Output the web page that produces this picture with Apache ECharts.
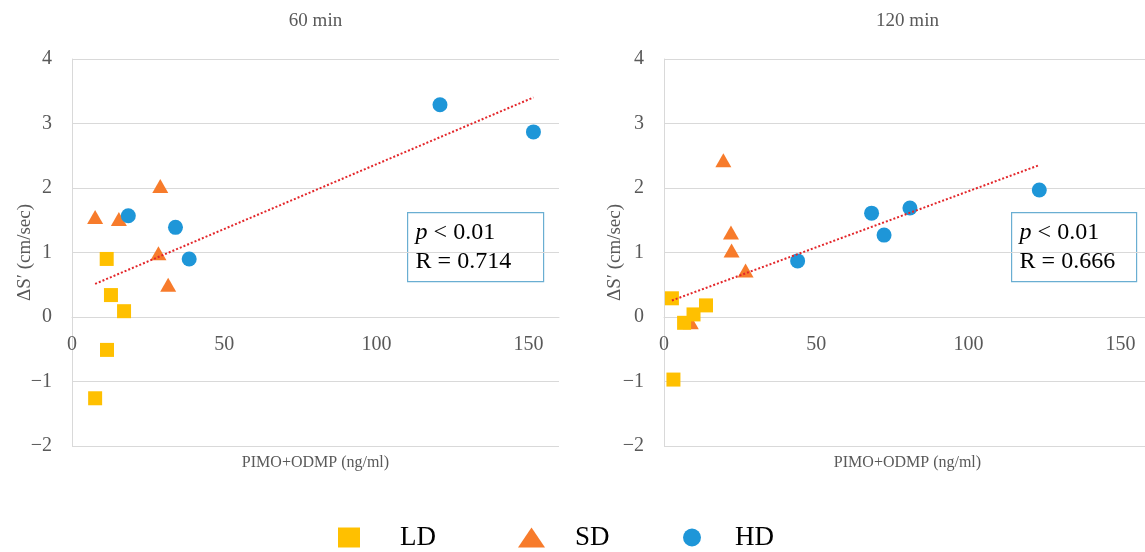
<!DOCTYPE html>
<html>
<head>
<meta charset="utf-8">
<script src="https://cdn.jsdelivr.net/npm/echarts@6/dist/echarts.min.js"></script>
<style>
html, body { margin: 0; background: #fff; }
#chart { width: 1145px; height: 552px; }
</style>
</head>
<body>
<div id="chart"></div>
<script>
const FONT = '"Liberation Serif", "DejaVu Serif", serif';
const GRAY = '#595959';
const LINE = '#D9D9D9';

// [PIMO+ODMP ng/ml, ΔS' cm/sec]
const ld60 = [[11.4, 0.90], [12.8, 0.34], [17.1, 0.09], [11.5, -0.51], [7.6, -1.26]];
const sd60 = [[7.6, 1.55], [15.4, 1.52], [29.0, 2.03], [28.4, 0.99], [31.6, 0.50]];
const hd60 = [[18.5, 1.57], [34.0, 1.39], [38.5, 0.90], [120.9, 3.29], [151.6, 2.87]];

const ld120 = [[2.6, 0.29], [6.6, -0.09], [9.7, 0.04], [13.8, 0.18], [3.1, -0.97]];
const sd120 = [[19.5, 2.43], [22.0, 1.31], [22.2, 1.03], [26.8, 0.72], [8.8, -0.08]];
const hd120 = [[43.9, 0.87], [68.2, 1.61], [72.3, 1.27], [80.8, 1.69], [123.3, 1.97]];

const panelTitles = ['60 min', '120 min'];
const statLines = [['0.01', '0.714'], ['0.01', '0.666']];
const groups = ['LD', 'SD', 'HD'];

const colors = { LD: '#FFC000', SD: '#F77B2B', HD: '#1E96D8' };
const symbols = { LD: ['rect', 14], SD: ['triangle', [16, 14]], HD: ['circle', 15] };
const zs = { LD: 3, SD: 2, HD: 4 };

// least squares line over all points of a panel, from min x to max x
function trend(points) {
	const n = points.length;
	let mx = 0, my = 0;
	for (const p of points) { mx += p[0]; my += p[1]; }
	mx /= n; my /= n;
	let sxx = 0, sxy = 0;
	for (const p of points) {
		sxx += (p[0] - mx) * (p[0] - mx);
		sxy += (p[0] - mx) * (p[1] - my);
	}
	const b = sxy / sxx, a = my - b * mx;
	const xs = points.map((p) => p[0]);
	const x0 = Math.min(...xs), x1 = Math.max(...xs);
	return [[x0, a + b * x0], [x1, a + b * x1]];
}

const panels = [
	{ LD: ld60, SD: sd60, HD: hd60 },
	{ LD: ld120, SD: sd120, HD: hd120 },
];
const gridLefts = [72, 664];
const yNameGaps = [37, 39];
const gridW = 487;
const gridH = 387;
const yMin = -2, yMax = 4;

const series = [];
panels.forEach((panel, i) => {
	for (const g of groups) {
		series.push({
			name: g,
			type: 'scatter',
			xAxisIndex: i,
			yAxisIndex: i,
			data: panel[g],
			symbol: symbols[g][0],
			symbolSize: symbols[g][1],
			itemStyle: { color: colors[g], opacity: 1 },
			z: zs[g],
		});
	}
	series.push({
		type: 'line',
		xAxisIndex: i,
		yAxisIndex: i,
		data: trend([...panel.LD, ...panel.SD, ...panel.HD]),
		symbol: 'none',
		silent: true,
		lineStyle: { color: '#E3262A', width: 2, type: 'dotted' },
		z: 6,
	});
});

const fmtY = (v) => (v < 0 ? '\u2212' + Math.abs(v) : String(v));
// x axis sits on the y = 0 line
const zeroOffset = -gridH * (0 - yMin) / (yMax - yMin);

const option = {
	animation: false,
	textStyle: { fontFamily: FONT },
	title: panelTitles.map((t, i) => ({
		text: t,
		left: gridLefts[i] + gridW / 2,
		top: 12,
		padding: 0,
		textAlign: 'center',
		textStyle: { fontFamily: FONT, fontSize: 19, fontWeight: 'normal', color: GRAY },
	})),
	grid: gridLefts.map((l) => ({
		left: l, top: 59, width: gridW, height: gridH,
		containLabel: false, outerBoundsMode: 'none',
	})),
	xAxis: gridLefts.map((l, i) => ({
		type: 'value',
		gridIndex: i,
		min: 0,
		max: 160,
		interval: 50,
		position: 'bottom',
		offset: zeroOffset,
		name: 'PIMO+ODMP (ng/ml)',
		nameLocation: 'middle',
		nameGap: 138,
		nameTextStyle: { fontFamily: FONT, fontSize: 16, color: GRAY },
		axisLine: { onZero: false, lineStyle: { color: LINE, width: 1 } },
		axisTick: { show: false },
		splitLine: { show: false },
		axisLabel: { showMaxLabel: false, margin: 18, fontFamily: FONT, fontSize: 20, color: GRAY },
	})),
	yAxis: gridLefts.map((l, i) => ({
		type: 'value',
		gridIndex: i,
		min: yMin,
		max: yMax,
		interval: 1,
		name: 'ΔS\u2032 (cm/sec)',
		nameLocation: 'middle',
		nameGap: yNameGaps[i],
		nameMoveOverlap: false,
		nameTextStyle: { fontFamily: FONT, fontSize: 19, color: GRAY },
		axisLine: { show: true, onZero: false, lineStyle: { color: LINE, width: 1 } },
		axisTick: { show: false },
		splitLine: { lineStyle: { color: LINE, width: 1 } },
		axisLabel: { margin: 20, fontFamily: FONT, fontSize: 20, color: GRAY, formatter: fmtY },
	})),
	legend: [
		{ name: 'LD', left: 338, icon: 'rect', w: 22, h: 20, pad: 35 },
		{ name: 'SD', left: 518, icon: 'triangle', w: 27, h: 20, pad: 25 },
		{ name: 'HD', left: 683, icon: 'circle', w: 18, h: 18, pad: 29 },
	].map((l) => ({
		data: [l.name],
		left: l.left,
		top: 524,
		padding: 0,
		icon: l.icon,
		itemWidth: l.w,
		itemHeight: l.h,
		selectedMode: false,
		textStyle: { fontFamily: FONT, fontSize: 27, color: '#000', lineHeight: 27, padding: [0, 0, 0, l.pad] },
	})),
	graphic: statLines.map((s, i) => ({
		type: 'group',
		left: i === 0 ? 407 : 1011,
		top: 212,
		z: 100,
		children: [
			{
				type: 'rect',
				shape: { x: 0, y: 0, width: i === 0 ? 136 : 125, height: 69 },
				style: { fill: '#fff', stroke: '#6AAED2', lineWidth: 1.2 },
			},
			{
				type: 'text',
				x: 8,
				y: 6,
				style: {
					text: '{i|p} < ' + s[0] + '\nR = ' + s[1],
					fontFamily: FONT,
					fontSize: 24,
					lineHeight: 29,
					fill: '#000',
					rich: { i: { fontFamily: FONT, fontSize: 24, fontStyle: 'italic', lineHeight: 29, fill: '#000' } },
				},
			},
		],
	})),
	series,
};

const chart = echarts.init(document.getElementById('chart'));
chart.setOption(option);
</script>
</body>
</html>
